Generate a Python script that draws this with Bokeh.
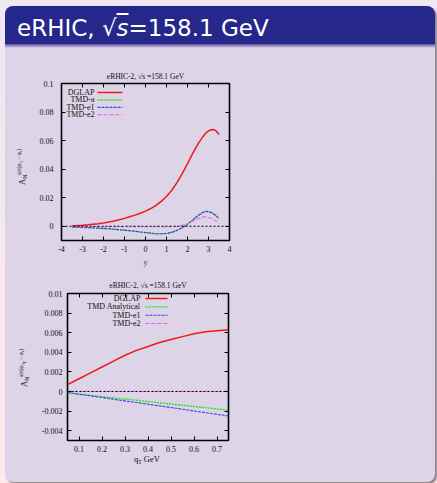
import numpy as np
from bokeh.plotting import figure
from bokeh.models import (Range1d, FixedTicker, PrintfTickFormatter, LinearAxis,
                          Span, Div)
from bokeh.layouts import column, row
from bokeh.core.properties import value
from bokeh.embed import file_html
from bokeh.resources import INLINE

# ---------------------------------------------------------------------------
# A_N versus rapidity y
rap = [-3.5, -3.25, -3.0, -2.75, -2.5, -2.25, -2.0, -1.75, -1.5, -1.25, -1.0,
       -0.75, -0.5, -0.25, 0.0, 0.25, 0.5, 0.75, 1.0, 1.25, 1.5, 1.75, 2.0,
       2.25, 2.5, 2.75, 2.875, 3.0, 3.125, 3.25, 3.375, 3.5]
rap_dglap = [0.0004, 0.0005, 0.0007, 0.0010, 0.0014, 0.0018, 0.0023, 0.0029,
             0.0036, 0.0045, 0.0055, 0.0066, 0.0078, 0.0091, 0.0106, 0.0124,
             0.0146, 0.0174, 0.0208, 0.0252, 0.0305, 0.0368, 0.0438, 0.0510,
             0.0577, 0.0631, 0.0653, 0.0668, 0.0676, 0.0677, 0.0666, 0.0642]
rap_tmd_a = [-0.0006, -0.0007, -0.0009, -0.0010, -0.0012, -0.0014, -0.0016,
             -0.0019, -0.0022, -0.0025, -0.0028, -0.0032, -0.0036, -0.0041,
             -0.0045, -0.0049, -0.0053, -0.0054, -0.0051, -0.0042, -0.0028,
             -0.0009, 0.0015, 0.0046, 0.0077, 0.0100, 0.0105, 0.0104, 0.0096,
             0.0085, 0.0069, 0.0050]
rap_tmd_e1 = [-0.0006, -0.0007, -0.0008, -0.0010, -0.0011, -0.0013, -0.0015,
              -0.0018, -0.0021, -0.0024, -0.0027, -0.0031, -0.0035, -0.0040,
              -0.0044, -0.0048, -0.0052, -0.0053, -0.0051, -0.0043, -0.0029,
              -0.0011, 0.0013, 0.0043, 0.0074, 0.0097, 0.0102, 0.0102, 0.0096,
              0.0086, 0.0072, 0.0056]
rap_tmd_e2 = [-0.0004, -0.0004, -0.0004, -0.0004, -0.0004, -0.0004, -0.0004,
              -0.0004, -0.0004, -0.0004, -0.0004, -0.0004, -0.0004, -0.0004,
              -0.0004, -0.0004, -0.0004, -0.0004, -0.0004, -0.0003, 0.0000,
              0.0006, 0.0018, 0.0036, 0.0053, 0.0064, 0.0066, 0.0063, 0.0056,
              0.0046, 0.0034, 0.0020]

# A_N versus q_T
qt = [0.05, 0.1, 0.15, 0.2, 0.25, 0.3, 0.35, 0.4, 0.45, 0.5, 0.55, 0.6, 0.65,
      0.7, 0.75]
qt_dglap = [0.0007, 0.0013, 0.0019, 0.0025, 0.0031, 0.0037, 0.0042, 0.0046,
            0.0050, 0.0053, 0.0056, 0.0059, 0.0061, 0.0062, 0.0063]
qt_tmd_an = [-0.00015, -0.00028, -0.0004, -0.00053, -0.00065, -0.00078,
             -0.0009, -0.00103, -0.00115, -0.00128, -0.0014, -0.00153,
             -0.00165, -0.00178, -0.0019]
qt_tmd_e1 = [-0.0001, -0.00027, -0.00044, -0.00061, -0.00079, -0.00096,
             -0.00113, -0.0013, -0.00147, -0.00164, -0.00181, -0.00199,
             -0.00216, -0.00233, -0.0025]
qt_tmd_e2 = [0.00003] * 15

rap_x_ticks = [-4, -3, -2, -1, 0, 1, 2, 3, 4]
rap_y_ticks = [0, 0.02, 0.04, 0.06, 0.08, 0.1]
qt_x_ticks = [0.1, 0.2, 0.3, 0.4, 0.5, 0.6, 0.7]
qt_y_ticks = [-0.004, -0.002, 0, 0.002, 0.004, 0.006, 0.008, 0.01]

rap_names = ["DGLAP", "TMD-a", "TMD-e1", "TMD-e2"]
qt_names = ["DGLAP", "TMD Analytical", "TMD-e1", "TMD-e2"]

# ---------------------------------------------------------------------------
LAV = "#ddd4e7"
NAVY = "#26278a"
SERIF = "Liberation Serif"
FS = "8px"
PANEL_TITLE = "eRHIC-2, \u221as =158.1 GeV"

LINE_STYLES = [
    dict(line_color="#f01818", line_width=1.5, line_dash="solid"),
    dict(line_color="#1ee61e", line_width=1.4, line_dash="2 1"),
    dict(line_color="#4040f0", line_width=1.1, line_dash="3 1"),
    dict(line_color="#ee5cee", line_width=1.1, line_dash="4 2"),
]


def panel(width, height, xr, yr, borders, xticks, yticks, standoff_y):
    left, right, top, bottom = borders
    p = figure(width=width, height=height,
               x_range=Range1d(*xr), y_range=Range1d(*yr),
               output_backend="svg", toolbar_location=None,
               background_fill_color=LAV, border_fill_color=LAV,
               min_border_left=left, min_border_right=right,
               min_border_top=top, min_border_bottom=bottom, margin=(0, 0, 0, 0))
    p.outline_line_color = "black"
    p.outline_line_width = 1.6
    p.grid.visible = False
    p.add_layout(LinearAxis(), "right")
    p.add_layout(LinearAxis(), "above")
    for ax in p.xaxis:
        ax.ticker = FixedTicker(ticks=xticks)
    for ax in p.yaxis:
        ax.ticker = FixedTicker(ticks=yticks)
    for ax in p.axis:
        ax.formatter = PrintfTickFormatter(format="%g")
        ax.major_tick_in = 4
        ax.major_tick_out = 0
        ax.major_tick_line_color = "black"
        ax.major_tick_line_width = 1
        ax.minor_tick_line_color = None
        ax.axis_line_color = None
        ax.major_label_text_font = SERIF
        ax.major_label_text_font_size = FS
        ax.major_label_text_color = "#111111"
    p.below[0].major_label_standoff = 5
    p.left[0].major_label_standoff = standoff_y
    # mirrored tick marks only, no numbers
    for ax in (p.right[0], p.above[0]):
        ax.formatter = PrintfTickFormatter(format="")
        ax.major_label_standoff = 0
    p.title.text = PANEL_TITLE
    p.title.align = "center"
    p.title.text_font = SERIF
    p.title.text_font_size = "7.5px"
    p.title.text_font_style = "normal"
    p.title.text_color = "#111111"
    return p


def draw(p, xs, series, names, leg_text_fx, leg_fx, leg_fy):
    x0, x1 = p.x_range.start, p.x_range.end
    y0, y1 = p.y_range.start, p.y_range.end
    p.add_layout(Span(location=0, dimension="width", line_color="black",
                      line_width=1.2, line_dash="2 2"))
    for ys, style in zip(series, LINE_STYLES):
        p.line(xs, ys, **style)
    # key: names right-aligned, line sample to their right
    for name, style, fy in zip(names, LINE_STYLES, leg_fy):
        yk = y0 + fy * (y1 - y0)
        p.line([x0 + leg_fx[0] * (x1 - x0), x0 + leg_fx[1] * (x1 - x0)],
               [yk, yk], **style)
        p.text(x=[x0 + leg_text_fx * (x1 - x0)], y=[yk], text=[name],
               text_font=value(SERIF), text_font_size=FS, text_color="#111111",
               text_align="right", text_baseline="middle")


SUB = 'style="font-size:5.5px;vertical-align:-2px;line-height:0"'
SUP = 'style="font-size:5.5px;vertical-align:4px;line-height:0"'
TINY = 'style="font-size:4px;vertical-align:-1px;line-height:0"'


def label_div(width, height, html, left, top, rotate):
    rot = "transform-origin:0 0;transform:rotate(-90deg);" if rotate else ""
    inner = (f'<div style="position:relative;width:{width}px;height:{height}px;">'
             f'<div style="position:absolute;left:{left}px;top:{top}px;{rot}'
             f'white-space:nowrap;font-family:\'{SERIF}\';font-size:8.5px;'
             f'line-height:10px;color:#111111;">{html}</div></div>')
    return Div(text=inner, width=width, height=height, margin=(0, 0, 0, 0),
               styles={"overflow": "visible"})


# ---- top panel: rapidity ----
p1 = panel(209, 222, (-4, 4), (-0.01, 0.1), (30, 11, 35, 30),
           rap_x_ticks, rap_y_ticks, 8)
draw(p1, rap, [rap_dglap, rap_tmd_a, rap_tmd_e1, rap_tmd_e2], rap_names,
     0.196, (0.214, 0.363), [0.943, 0.895, 0.848, 0.801])
p1.title.standoff = 5
p1.below[0].axis_label = "y"
p1.below[0].axis_label_text_font = SERIF
p1.below[0].axis_label_text_font_size = "8.5px"
p1.below[0].axis_label_text_font_style = "normal"
p1.below[0].axis_label_standoff = 2

ylab1 = label_div(
    26, 222,
    f'A<sub {SUB}>N</sub><sup {SUP}>sin(\u03c6<sub {TINY}>q</sub> \u2212 '
    f'\u03c6<sub {TINY}>s</sub>)</sup>',
    12, 137, True)

# ---- bottom panel: q_T ----
p2 = panel(202, 186, (0.05, 0.75), (-0.005, 0.01), (30, 11, 23, 16),
           qt_x_ticks, qt_y_ticks, 5)
draw(p2, qt, [qt_dglap, qt_tmd_an, qt_tmd_e1, qt_tmd_e2], qt_names,
     0.453, (0.484, 0.621), [0.966, 0.909, 0.852, 0.796])
p2.title.standoff = 7

ylab2 = label_div(
    32, 186,
    f'A<sub {SUB}>N</sub><sup {SUP}>sin(\u03c6<sub {TINY}>q<sub>T</sub></sub> '
    f'\u2212 \u03c6<sub {TINY}>s</sub>)</sup>',
    14, 117, True)

xlab2 = label_div(235, 20, f'q<sub {SUB}>T</sub> GeV', 129, -2, False)

# ---- frame: block with title bar ----
header = Div(
    text=('<div style="font-family: \'DejaVu Sans\'; font-size: 23px; color: white;'
          ' line-height: 23px; padding: 11px 0 0 12px; white-space: nowrap;">eRHIC, '
          '\u221a<span style="text-decoration: overline; font-style: italic;">s</span>'
          '=158.1 GeV</div>'),
    width=430, height=38, margin=(0, 0, 0, 0),
    styles={"background-color": NAVY})
band = Div(text="", width=430, height=4, margin=(0, 0, 0, 0),
           styles={"background": "linear-gradient(to bottom, #5a52a0, " + LAV + ")"})

box = column(header, band,
             row(ylab1, p1, margin=(0, 0, 0, 0)),
             row(ylab2, p2, margin=(0, 0, 0, 0)),
             xlab2,
             width=430, height=476, margin=(6, 0, 0, 5),
             styles={"background-color": LAV, "border-radius": "8px",
                     "overflow": "hidden",
                     "box-shadow": "2px 2px 2px rgba(60,60,70,0.6)"})
page = column(box, width=437, height=483, margin=(0, 0, 0, 0),
              styles={"background": "linear-gradient(to bottom, #efe7f4, #fde8ea)"})

open("out.html", "w").write(file_html(page, INLINE))
